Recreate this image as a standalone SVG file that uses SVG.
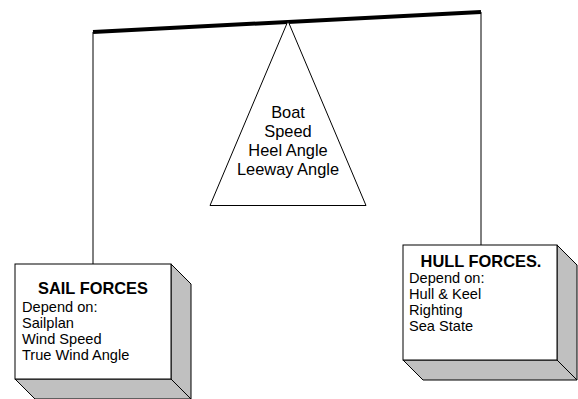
<svg xmlns="http://www.w3.org/2000/svg" width="578" height="399" viewBox="0 0 578 399">
<style>
.t{font-family:"Liberation Sans",Arial,sans-serif;font-size:14.6px;fill:#000}
.h{font-family:"Liberation Sans",Arial,sans-serif;font-size:16.4px;font-weight:bold;fill:#000}
.c{font-family:"Liberation Sans",Arial,sans-serif;font-size:16.4px;fill:#000}
.front{fill:#fff;stroke:#000;stroke-width:1}
.side{fill:#c0c0c0;stroke:#000;stroke-width:1}
.ln{fill:none;stroke:#000;stroke-width:1}
</style>
<rect width="578" height="399" fill="#fff"/>
<g id="connectors">
<line class="ln" x1="93" y1="32" x2="93" y2="264"/>
<line class="ln" x1="481" y1="12" x2="481" y2="245"/>
<line x1="93" y1="32" x2="481" y2="12" stroke="#000" stroke-width="4"/>
</g>
<g id="fulcrum">
<polygon points="288,21 366,205.5 210,205.5" fill="#fff" stroke="#000" stroke-width="1"/>
<text class="c" text-anchor="middle" x="288"><tspan x="288" y="118">Boat</tspan><tspan x="288" y="137">Speed</tspan><tspan x="288" y="156">Heel Angle</tspan><tspan x="288" y="175">Leeway Angle</tspan></text>
</g>
<g id="sail-forces">
<polygon class="side" points="171,264 191,284 191,399 171,379"/>
<polygon class="side" points="15,379 171,379 191,399 35,399"/>
<rect class="front" x="15" y="264" width="156" height="115"/>
<text class="h" x="93" y="294" text-anchor="middle">SAIL FORCES</text>
<text class="t"><tspan x="22" y="312">Depend on:</tspan><tspan x="22" y="328">Sailplan</tspan><tspan x="22" y="344">Wind Speed</tspan><tspan x="22" y="360">True Wind Angle</tspan></text>
</g>
<g id="hull-forces">
<polygon class="side" points="557,245 577,265 577,380 557,360"/>
<polygon class="side" points="403,360 557,360 577,380 423,380"/>
<rect class="front" x="403" y="245" width="154" height="115"/>
<text class="h" x="481" y="267" text-anchor="middle">HULL FORCES.</text>
<text class="t"><tspan x="409" y="283">Depend on:</tspan><tspan x="409" y="299">Hull &amp; Keel</tspan><tspan x="409" y="315">Righting</tspan><tspan x="409" y="331">Sea State</tspan></text>
</g>
</svg>
